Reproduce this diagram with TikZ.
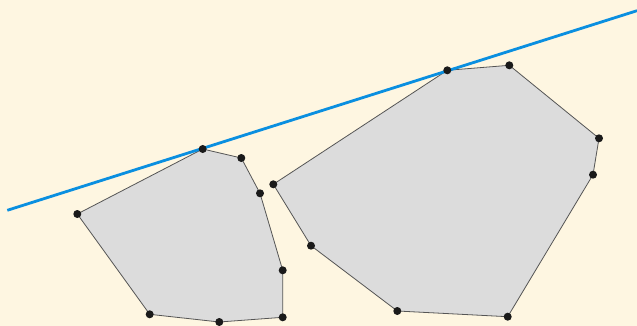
\documentclass[tikz,border=0pt]{standalone}
\usepackage{tikz}
\definecolor{bg}{HTML}{FEF6E1}
\definecolor{polyfill}{HTML}{DCDCDC}
\definecolor{edge}{HTML}{555555}
\definecolor{tangent}{HTML}{0A8FE0}
\definecolor{dotc}{HTML}{1A1A1A}
\tikzset{
  vtx/.style={circle,fill=dotc,inner sep=0pt,minimum size=8pt},
  poly/.style={fill=polyfill,draw=edge,line width=0.8pt,line join=round},
  tline/.style={draw=tangent,line width=2.8pt}
}
\begin{document}
\begin{tikzpicture}[x=1pt,y=-1pt]
\fill[bg] (0,0) rectangle (637,326);
\useasboundingbox (0,0) rectangle (637,326);
% left polygon
\coordinate (a1) at (77.3,214);
\coordinate (a2) at (202.7,149);
\coordinate (a3) at (241.3,158);
\coordinate (a4) at (260,193.3);
\coordinate (a5) at (282.7,270.3);
\coordinate (a6) at (282.7,317.3);
\coordinate (a7) at (219.3,322);
\coordinate (a8) at (149.7,314.3);
% right polygon
\coordinate (b1) at (273.3,184.3);
\coordinate (b2) at (447.3,70.3);
\coordinate (b3) at (509.3,65.3);
\coordinate (b4) at (599,138.3);
\coordinate (b5) at (593,174.7);
\coordinate (b6) at (507.7,316.7);
\coordinate (b7) at (397.3,311);
\coordinate (b8) at (311,245.7);
\path[poly] (a1)--(a2)--(a3)--(a4)--(a5)--(a6)--(a7)--(a8)--cycle;
\path[poly] (b1)--(b2)--(b3)--(b4)--(b5)--(b6)--(b7)--(b8)--cycle;
% tangent line
\coordinate (ls) at (7.3,210.3);
\coordinate (le) at (637,10.7);
\draw[tline] (ls) -- (le);
\foreach \p in {a1,a2,a3,a4,a5,a6,a7,a8,b1,b2,b3,b4,b5,b6,b7,b8}
  \node[vtx] (v\p) at (\p) {};
\end{tikzpicture}
\end{document}
